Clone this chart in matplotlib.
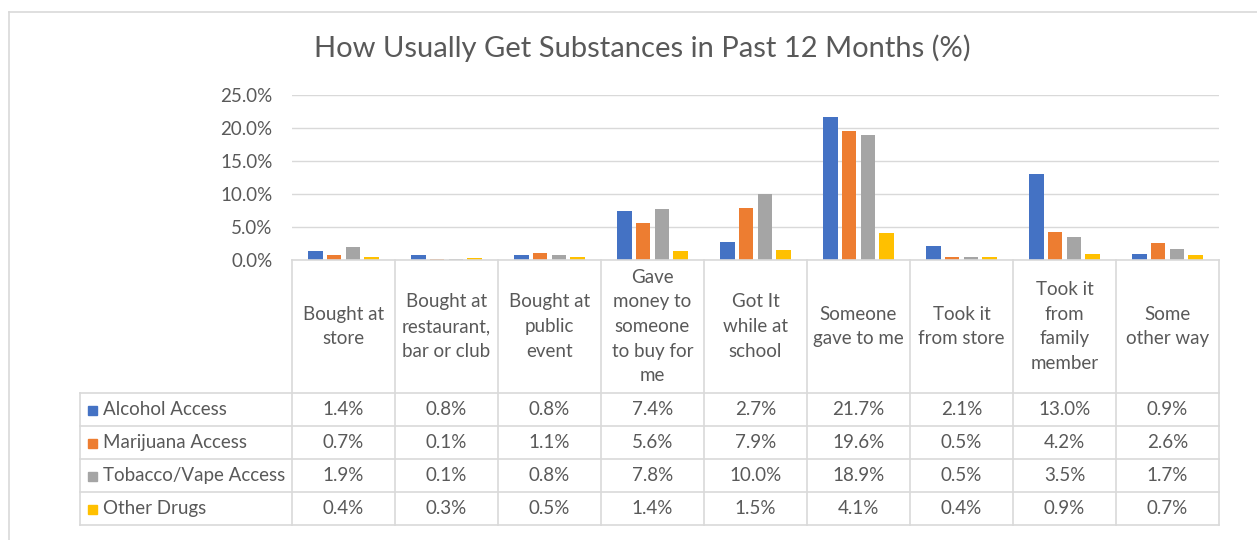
import matplotlib
matplotlib.use("Agg")
import matplotlib.pyplot as plt
from matplotlib.lines import Line2D
from matplotlib.patches import Rectangle
import numpy as np

plt.rcParams['font.family'] = ['Lato', 'DejaVu Sans']

categories = ["Bought at\nstore", "Bought at\nrestaurant,\nbar or club", "Bought at\npublic\nevent",
              "Gave\nmoney to\nsomeone\nto buy for\nme", "Got It\nwhile at\nschool", "Someone\ngave to me",
              "Took it\nfrom store", "Took it\nfrom\nfamily\nmember", "Some\nother way"]
series_names = ["Alcohol Access", "Marijuana Access", "Tobacco/Vape Access", "Other Drugs"]
alcohol = [1.4, 0.8, 0.8, 7.4, 2.7, 21.7, 2.1, 13.0, 0.9]
marijuana = [0.7, 0.1, 1.1, 5.6, 7.9, 19.6, 0.5, 4.2, 2.6]
tobacco = [1.9, 0.1, 0.8, 7.8, 10.0, 18.9, 0.5, 3.5, 1.7]
other = [0.4, 0.3, 0.5, 1.4, 1.5, 4.1, 0.4, 0.9, 0.7]
colors = ["#4472C4", "#ED7D31", "#A5A5A5", "#FFC000"]
yticks = [0, 5, 10, 15, 20, 25]

W, H = 1257, 540
TXT = "#595959"
GRID = "#D9D9D9"
FS = 13.5

fig = plt.figure(figsize=(W / 100, H / 100), dpi=100)

def fx(x):
    return x / W

def fy(y):
    return 1 - y / H

# plot area in pixels
L, R, T, B = 292, 1219, 95, 260
ax = fig.add_axes([fx(L), fy(B), fx(R) - fx(L), fy(T) - fy(B)])
ax.set_xlim(0, len(categories))
ax.set_ylim(0, 25)
for s in ax.spines.values():
    s.set_visible(False)
ax.set_xticks([])
ax.set_yticks(yticks)
ax.set_yticklabels([f"{v:.1f}%" for v in yticks], color=TXT, fontsize=FS)
ax.tick_params(axis='y', length=0, pad=14)
ax.grid(axis='y', color=GRID, linewidth=1)
ax.set_axisbelow(True)

data = [alcohol, marijuana, tobacco, other]
x = np.arange(len(categories)) + 0.5
step, width = 0.18, 0.14
for i, (vals, c) in enumerate(zip(data, colors)):
    ax.bar(x + (i - 1.5) * step, vals, width=width, color=c, zorder=3)

# title
fig.text(fx(642), fy(48), "How Usually Get Substances in Past 12 Months (%)",
         ha='center', va='center', fontsize=21, color=TXT)

# outer border
fig.add_artist(Line2D([fx(9), fx(9)], [fy(12), fy(540)], color=GRID, lw=1.2))
fig.add_artist(Line2D([fx(9), fx(1257)], [fy(12), fy(12)], color=GRID, lw=1.2))

# data table
ncol = len(categories)
colw = (R - L) / ncol
rows = [393, 426, 459, 492, 525]
tkw = dict(color=GRID, lw=1.2)
fig.add_artist(Line2D([fx(L), fx(R)], [fy(B), fy(B)], **tkw))
for i in range(ncol + 1):
    xx = L + i * colw
    fig.add_artist(Line2D([fx(xx), fx(xx)], [fy(B), fy(rows[-1])], **tkw))
fig.add_artist(Line2D([fx(80), fx(80)], [fy(rows[0]), fy(rows[-1])], **tkw))
for yy in rows:
    fig.add_artist(Line2D([fx(80), fx(R)], [fy(yy), fy(yy)], **tkw))

for i, cat in enumerate(categories):
    cx = L + (i + 0.5) * colw
    fig.text(fx(cx), fy((B + rows[0]) / 2), cat, ha='center', va='center',
             fontsize=FS, color=TXT, linespacing=1.55)

for r, (name, vals, c) in enumerate(zip(series_names, data, colors)):
    cy = (rows[r] + rows[r + 1]) / 2
    fig.add_artist(Rectangle((fx(88), fy(cy + 5)), fx(9), 9 / H, color=c,
                             transform=fig.transFigure))
    fig.text(fx(103), fy(cy), name, ha='left', va='center', fontsize=FS, color=TXT)
    for i, v in enumerate(vals):
        cx = L + (i + 0.5) * colw
        fig.text(fx(cx), fy(cy), f"{v:.1f}%", ha='center', va='center',
                 fontsize=FS, color=TXT)

fig.savefig("out.png", dpi=100)
